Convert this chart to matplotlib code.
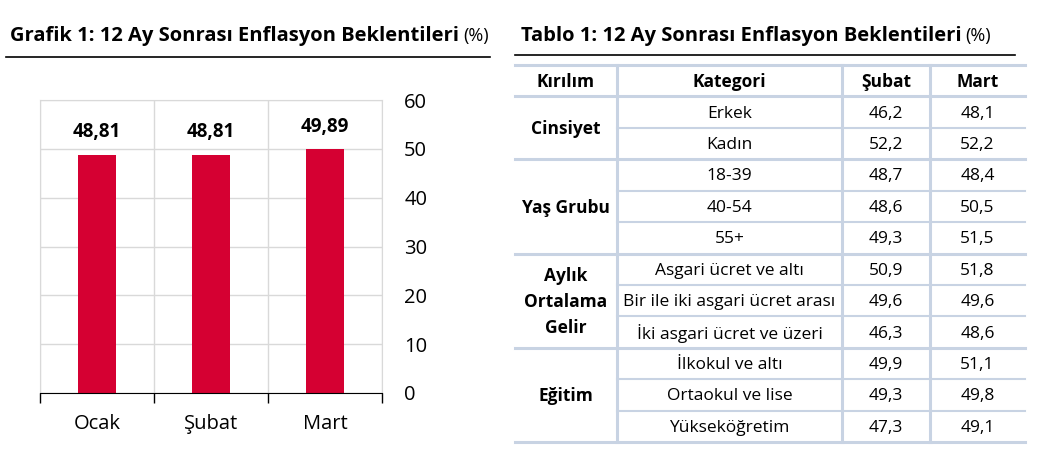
import matplotlib.pyplot as plt

plt.rcParams['font.family'] = ['Open Sans', 'DejaVu Sans']

# Grafik 1 verileri
aylar = ["Ocak", "Şubat", "Mart"]
beklenti = [48.81, 48.81, 49.89]

# Tablo 1 verileri
gruplar = ["Cinsiyet", "Yaş Grubu", "Aylık\nOrtalama\nGelir", "Eğitim"]
grup_satir = [2, 3, 3, 3]
kategoriler = ["Erkek", "Kadın", "18-39", "40-54", "55+",
               "Asgari ücret ve altı", "Bir ile iki asgari ücret arası",
               "İki asgari ücret ve üzeri", "İlkokul ve altı",
               "Ortaokul ve lise", "Yükseköğretim"]
subat = [46.2, 52.2, 48.7, 48.6, 49.3, 50.9, 49.6, 46.3, 49.9, 49.3, 47.3]
mart = [48.1, 52.2, 48.4, 50.5, 51.5, 51.8, 49.6, 48.6, 51.1, 49.8, 49.1]
basliklar = ["Kırılım", "Kategori", "Şubat", "Mart"]

W, H = 1050, 453
fig = plt.figure(figsize=(W / 100, H / 100), dpi=100)

def tr(v, n=1):
    return f"{v:.{n}f}".replace(".", ",")

# ---- Bar grafiği ----
ax = fig.add_axes([40 / W, (H - 393) / H, (382 - 40) / W, (393 - 100) / H])
x = range(len(aylar))
ax.bar(x, beklenti, width=0.33, color="#d50032", zorder=3)
for i, v in zip(x, beklenti):
    ax.text(i, v + 2.6, tr(v, 2), ha="center", va="bottom",
            fontsize=13.5, fontweight="bold")
ax.set_xlim(-0.5, 2.5)
ax.set_ylim(0, 60)
ax.set_xticks([-0.5, 0.5, 1.5, 2.5])
ax.set_xticklabels([])
ax.set_xticks(list(x), minor=True)
ax.set_xticklabels(aylar, minor=True, fontsize=14.5)
ax.tick_params(axis="x", which="major", length=7, width=1, color="black", direction="out")
ax.tick_params(axis="x", which="minor", length=0, pad=15)
ax.yaxis.tick_right()
ax.set_yticks(range(0, 61, 10))
ax.tick_params(axis="y", length=0, pad=16, labelsize=14.5)
for t in ax.get_yticklabels():
    t.set_horizontalalignment("left")
ax.grid(True, axis="y", color="#d9d9d9", linewidth=1, zorder=0)
for b in [-0.5, 0.5, 1.5, 2.5]:
    ax.axvline(b, color="#d9d9d9", linewidth=1, zorder=0)
for s in ["top", "left", "right"]:
    ax.spines[s].set_color("#d9d9d9")
ax.spines["bottom"].set_color("black")
ax.spines["bottom"].set_zorder(4)

# ---- Sayfa düzeyi çizimler (başlıklar ve tablo) ----
pa = fig.add_axes([0, 0, 1, 1])
pa.set_xlim(0, W)
pa.set_ylim(H, 0)
pa.axis("off")

t1 = pa.text(10, 36, "Grafik 1: 12 Ay Sonrası Enflasyon Beklentileri",
             fontsize=14.5, fontweight="bold", va="center", ha="left")
pa.annotate("(%)", xy=(1, 0.5), xycoords=t1, xytext=(3, 0), textcoords="offset points",
            fontsize=13, va="center", ha="left")
pa.plot([6, 490], [57, 57], color="black", linewidth=1.2)

t2 = pa.text(521, 36, "Tablo 1: 12 Ay Sonrası Enflasyon Beklentileri",
             fontsize=14.5, fontweight="bold", va="center", ha="left")
pa.annotate("(%)", xy=(1, 0.5), xycoords=t2, xytext=(3, 0), textcoords="offset points",
            fontsize=13, va="center", ha="left")
pa.plot([515, 1015], [55, 55], color="black", linewidth=1.2)

# tablo
cizgi = "#c8d3e3"
kol = [515, 617, 842, 930, 1025]
ust, alt = 65, 442
n = len(kategoriler) + 1
rh = (alt - ust) / n
merk = [(kol[i] + kol[i + 1]) / 2 for i in range(4)]
fs = 12.5
dy = 1.5

for j, bslk in enumerate(basliklar):
    pa.text(merk[j], ust + rh / 2 + dy, bslk, ha="center", va="center",
            fontsize=fs, fontweight="bold")

for r in range(len(kategoriler)):
    yc = ust + rh * (r + 1.5) + dy
    pa.text(merk[1], yc, kategoriler[r], ha="center", va="center", fontsize=fs)
    pa.text(merk[2], yc, tr(subat[r]), ha="center", va="center", fontsize=fs)
    pa.text(merk[3], yc, tr(mart[r]), ha="center", va="center", fontsize=fs)

# yatay çizgiler
pa.plot([kol[0], kol[-1]], [ust, ust], color=cizgi, linewidth=2.2)
r0 = 1
pa.plot([kol[0], kol[-1]], [ust + rh, ust + rh], color=cizgi, linewidth=2.2)
for g, k in zip(gruplar, grup_satir):
    yc = ust + rh * (r0 + k / 2) + dy
    pa.text(merk[0], yc, g, ha="center", va="center", fontsize=fs,
            fontweight="bold", linespacing=1.55)
    for s in range(1, k):
        yy = ust + rh * (r0 + s)
        pa.plot([kol[1], kol[-1]], [yy, yy], color=cizgi, linewidth=1.5)
    r0 += k
    yy = ust + rh * r0
    pa.plot([kol[0], kol[-1]], [yy, yy], color=cizgi, linewidth=2.2)

for xx in kol[1:-1]:
    pa.plot([xx, xx], [ust, alt], color=cizgi, linewidth=2.2)

fig.savefig("out.png", dpi=100)
